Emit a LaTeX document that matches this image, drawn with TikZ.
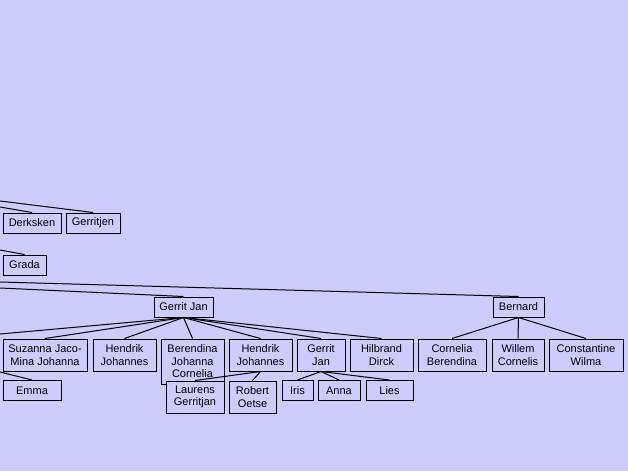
\documentclass[tikz,border=0pt]{standalone}
\usepackage{fontspec}
\setmainfont{Liberation Sans}
\definecolor{lavender}{RGB}{204,204,255}

\begin{document}
\begin{tikzpicture}[x=1pt, y=-1pt, line width=1pt,
            every node/.style={draw, fill=lavender, align=center, inner xsep=4pt, inner ysep=2pt,
                               minimum height=20pt, font=\fontsize{11}{12.5}\selectfont},
            boxw/.style={minimum width=#1},
            two/.style={minimum height=32pt},
            three/.style={minimum height=45pt}]
        \fill[lavender] (0,0) rectangle (628,471);
        \useasboundingbox (0,0) rectangle (628,471);
        \node[boxw=58pt] (derksken) at (32,223) {Derksken};
        \node[boxw=54pt] (gerritjen) at (93,223) {Gerritjen};
        \node[boxw=43pt] (grada) at (24.5,265) {Grada};
        \node[boxw=59pt] (gerritjan) at (183.5,307) {Gerrit Jan};
        \node[boxw=51pt] (bernard) at (518.5,307) {Bernard};
        \node[two, boxw=84pt] (suzanna) at (45,355) {Suzanna Jaco-\\Mina Johanna};
        \node[two, boxw=63pt] (hendrikA) at (124.5,355) {Hendrik\\Johannes};
        \node[three, boxw=63pt] (berendina) at (192.5,361.5) {Berendina\\Johanna\\Cornelia};
        \node[two, boxw=63pt] (hendrikB) at (260.5,355) {Hendrik\\Johannes};
        \node[two, boxw=48pt] (gerritjanB) at (321,355) {Gerrit\\Jan};
        \node[two, boxw=63pt] (hilbrand) at (381.5,355) {Hilbrand\\Dirck};
        \node[two, boxw=68pt] (cornelia) at (452,355) {Cornelia\\Berendina};
        \node[two, boxw=52pt] (willem) at (518,355) {Willem\\Cornelis};
        \node[two, boxw=74pt] (constantine) at (586,355) {Constantine\\Wilma};
        \node[boxw=58pt] (emma) at (32,390.5) {Emma};
        \node[two, boxw=58pt] (laurens) at (195,397) {Laurens\\Gerritjan};
        \node[two, boxw=47pt] (robert) at (252.5,397) {Robert\\Oetse};
        \node[boxw=31pt] (iris) at (297.5,390.5) {Iris};
        \node[boxw=42pt] (anna) at (339,390.5) {Anna};
        \node[boxw=47pt] (lies) at (389.5,390.5) {Lies};
        \coordinate (offDerksken) at (0,207);
        \coordinate (offGerritjen) at (0,201);
        \coordinate (offGrada) at (0,250);
        \coordinate (offBernard) at (0,282);
        \coordinate (offGerritjan) at (0,288);
        \coordinate (offChild) at (0,334);
        \coordinate (offEmma) at (0,372);
        \draw (offDerksken) -- (derksken.north);
        \draw (offGerritjen) -- (gerritjen.north);
        \draw (offGrada) -- (grada.north);
        \draw (offBernard) -- (bernard.north);
        \draw (offGerritjan) -- (gerritjan.north);
        \draw (offEmma) -- (emma.north);
        \foreach \c in {offChild,suzanna.north,hendrikA.north,berendina.north,hendrikB.north,gerritjanB.north,hilbrand.north}
            \draw (gerritjan.south) -- (\c);
        \foreach \c in {laurens,robert}
            \draw (hendrikB.south) -- (\c.north);
        \foreach \c in {iris,anna,lies}
            \draw (gerritjanB.south) -- (\c.north);
        \foreach \c in {cornelia,willem,constantine}
            \draw (bernard.south) -- (\c.north);
\end{tikzpicture}
\end{document}
